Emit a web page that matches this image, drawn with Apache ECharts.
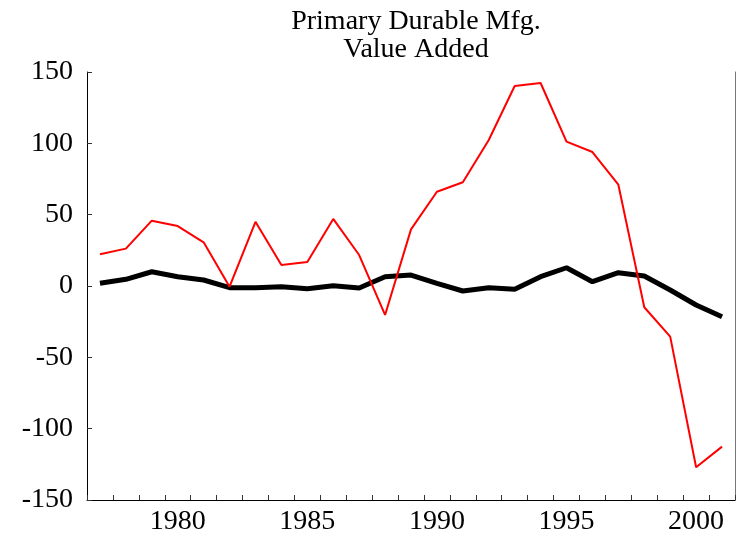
<!DOCTYPE html>
<html>
<head>
<meta charset="utf-8">
<script src="https://cdn.jsdelivr.net/npm/echarts@6/dist/echarts.min.js"></script>
<style>
html,body{margin:0;padding:0;background:#fff;}
#c{width:740px;height:538px;}
</style>
</head>
<body>
<div id="c"></div>
<script>
var years = ['1977','1978','1979','1980','1981','1982','1983','1984','1985','1986','1987','1988','1989','1990','1991','1992','1993','1994','1995','1996','1997','1998','1999','2000','2001'];
var redSeries = [22.2,26.2,45.8,42,30.6,-0.5,45,14.7,16.8,47,21.7,-20.3,39.7,66.1,72.7,102.3,140.2,142.3,101.2,93.9,71,-14.9,-35.5,-127,-112.6];
var blackSeries = [1.9,4.7,10,6.5,4.2,-1.2,-1.2,-0.5,-1.9,0.2,-1.4,6.5,7.7,1.9,-3.5,-1.2,-2.3,6.5,12.8,3,9.3,7,-2.8,-13.3,-21.5];
var titleText = 'Primary Durable Mfg.\nValue Added';

var font = 'Liberation Serif';
var chart = echarts.init(document.getElementById('c'));
chart.setOption({
  backgroundColor: '#fff',
  animation: false,
  title: {
    text: titleText,
    left: 411, textAlign: 'center',
    top: 3,
    textStyle: {fontFamily: font, fontSize: 28, fontWeight: 'normal', color: '#000', lineHeight: 28}
  },
  grid: {left: 87, right: 5, top: 72, bottom: 38},
  xAxis: {
    type: 'category',
    data: years,
    boundaryGap: true,
    axisLine: {show: true, onZero: false, lineStyle: {color: '#000', width: 1}},
    axisTick: {show: true, inside: true, length: 5, interval: 0, lineStyle: {color: '#333'}},
    axisLabel: {
      interval: function (idx, val) { return parseInt(val, 10) % 5 === 0; },
      fontFamily: font, fontSize: 28, color: '#000', margin: 8
    },
    splitLine: {show: false}
  },
  yAxis: [{
    type: 'value',
    min: -150, max: 150, interval: 50,
    axisLine: {show: true, lineStyle: {color: '#000', width: 1}},
    axisTick: {show: true, inside: true, length: 5, lineStyle: {color: '#333'}},
    axisLabel: {fontFamily: font, fontSize: 28, color: '#000', margin: 14},
    splitLine: {show: false}
  }, {
    type: 'value',
    position: 'right',
    min: -150, max: 150, interval: 50,
    axisLine: {show: true, lineStyle: {color: '#777', width: 1}},
    axisTick: {show: false},
    axisLabel: {show: false},
    splitLine: {show: false}
  }],
  series: [{
    type: 'line',
    data: blackSeries,
    symbol: 'none',
    lineStyle: {color: '#000', width: 5},
    z: 2
  }, {
    type: 'line',
    data: redSeries,
    symbol: 'none',
    lineStyle: {color: '#ff0000', width: 2},
    z: 3
  }]
});
</script>
</body>
</html>
